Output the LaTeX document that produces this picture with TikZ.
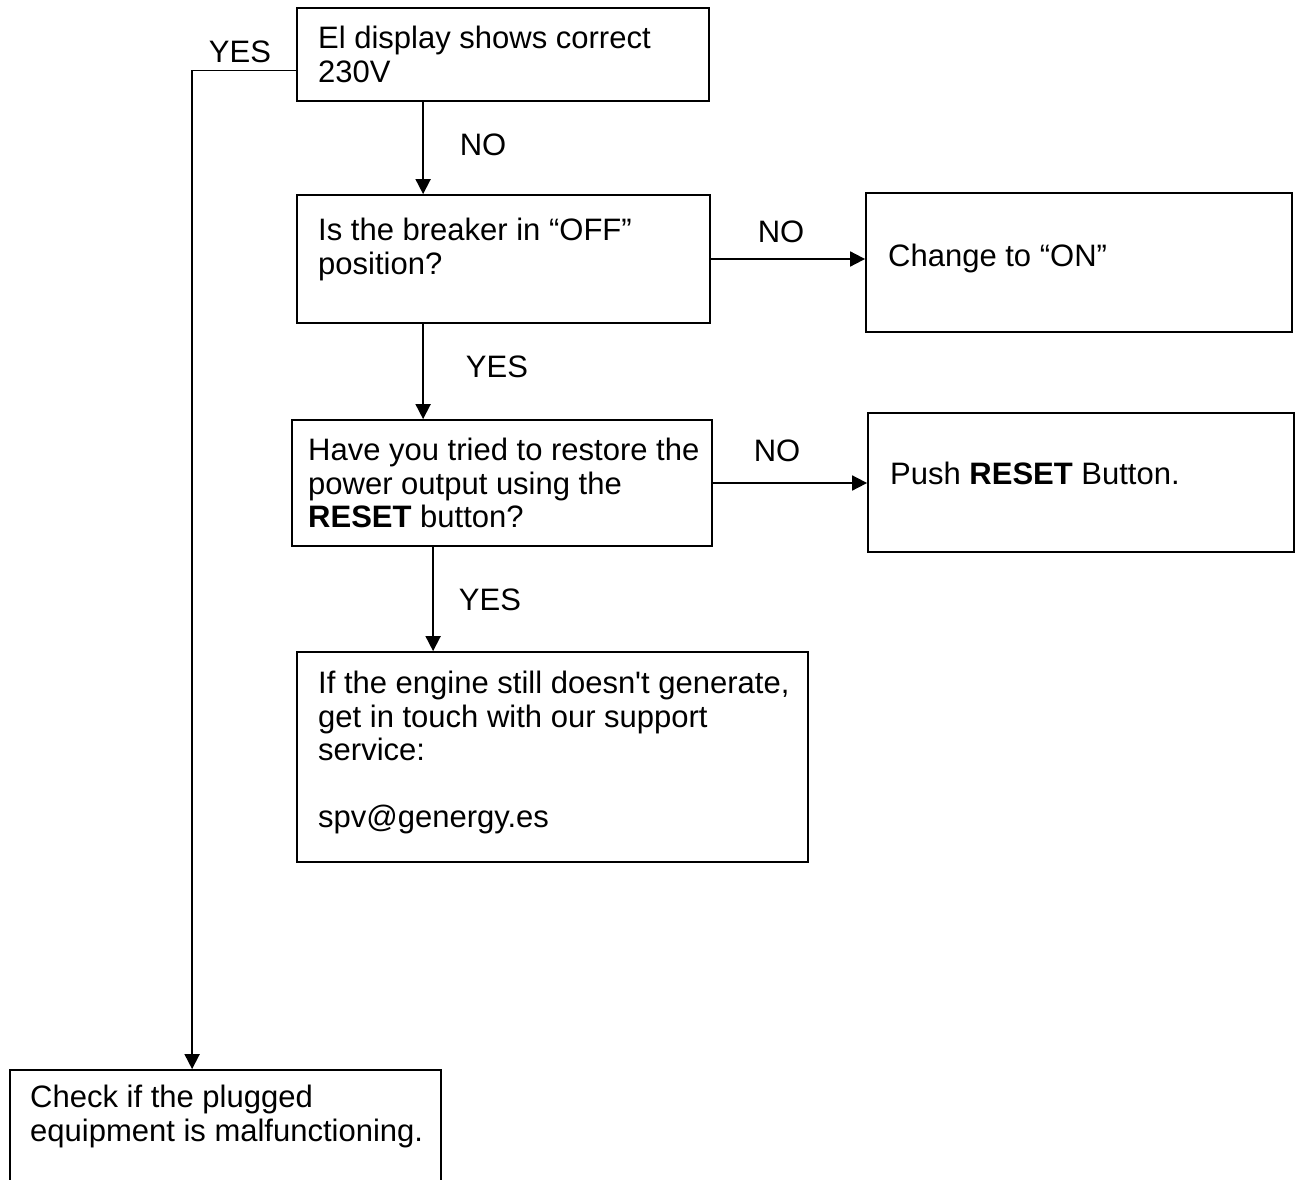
\documentclass[tikz,border=0pt]{standalone}
\usepackage{fontspec}
\setmainfont{Liberation Sans}[Ligatures=TeXOff]
\usetikzlibrary{arrows.meta}
\begin{document}
\begin{tikzpicture}[x=1pt,y=-1pt,
    font=\fontsize{31}{33.5}\selectfont,
    box/.style={draw, line width=1.8pt, inner sep=0pt},
    txt/.style={anchor=north west, align=left, inner sep=0pt},
    lbl/.style={inner sep=0pt},
    arr/.style={line width=1.8pt, -{Triangle[length=15pt,width=15pt]}}]
    \useasboundingbox (0,0) rectangle (1298,1180);
    \clip (0,0) rectangle (1298,1180);

    % Boxes
    \node[box, minimum width=412pt, minimum height=93pt] (disp) at (503,54.5) {};
    \node[box, minimum width=413pt, minimum height=128pt] (brk) at (503.5,259) {};
    \node[box, minimum width=426pt, minimum height=139pt] (on) at (1079,262.5) {};
    \node[box, minimum width=420pt, minimum height=126pt] (try) at (502,483) {};
    \node[box, minimum width=426pt, minimum height=139pt] (reset) at (1081,482.5) {};
    \node[box, minimum width=511pt, minimum height=210pt] (help) at (552.5,757) {};
    \node[box, minimum width=431pt, minimum height=140pt] (check) at (225.5,1140) {};

    % Texts
    \node[txt] (dispt) at (318,26) {El display shows correct\\230V};
    \node[txt] (brkt) at (318,218) {Is the breaker in “OFF”\\position?};
    \node[txt] (ont) at (888,244) {Change to “ON”};
    \node[txt] (tryt) at (308,438) {Have you tried to restore the\\power output using the\\\textbf{RESET} button?};
    \node[txt] (resett) at (890,462) {Push \textbf{RESET} Button.};
    \node[txt] (helpt) at (318,671) {If the engine still doesn't generate,\\get in touch with our support\\service:\\[33.5pt]spv@genergy.es};
    \node[txt] (checkt) at (30,1085) {Check if the plugged\\equipment is malfunctioning.};

    % Labels
    \foreach \t/\x/\y in {YES/240/52, NO/483/145, NO/781/232, YES/497/367, NO/777/451, YES/490/600}
        \node[lbl] (lab\x) at (\x,\y) {\t};

    % Connectors
    \draw[arr] ([yshift=-16pt]disp.west) -| ([xshift=183pt]check.north west);
    \draw[arr] ([xshift=127pt]disp.south west) -- ([xshift=127pt]brk.north west);
    \draw[arr] ([xshift=127pt]brk.south west) -- ([xshift=132pt]try.north west);
    \draw[arr] ([xshift=142pt]try.south west) -- ([xshift=137pt]help.north west);
    \draw[arr] (brk.east) -- (brk.east -| on.west);
    \draw[arr] (try.east) -- (try.east -| reset.west);
\end{tikzpicture}
\end{document}
